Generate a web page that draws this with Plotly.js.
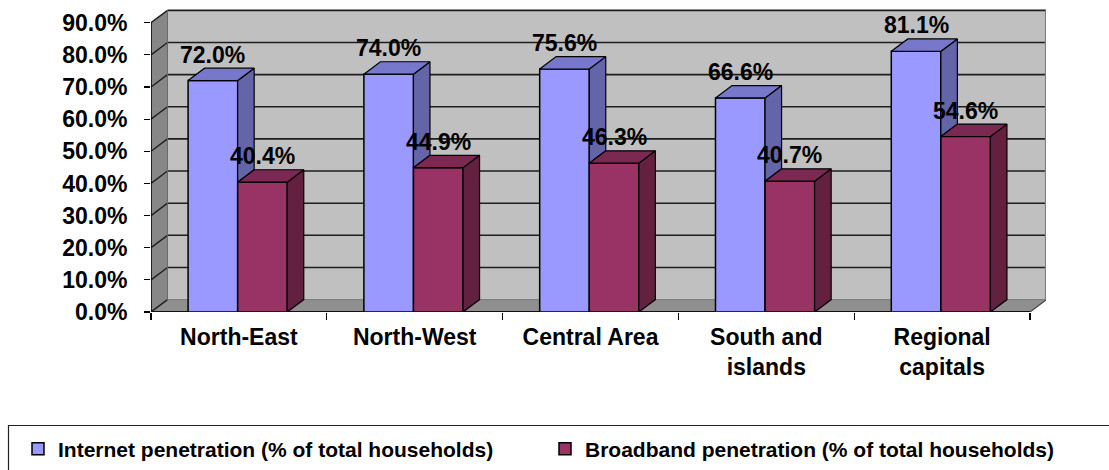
<!DOCTYPE html>
<html>
<head>
<meta charset="utf-8">
<script src="https://cdn.plot.ly/plotly-3.0.1.min.js"></script>
<style>html,body{margin:0;padding:0;background:#fff;}#chart{width:1109px;height:470px;}</style>
</head>
<body>
<div id="chart"></div>
<script>
// ---- data ----
const categories = ['North-East', 'North-West', 'Central Area', 'South and<br>islands', 'Regional<br>capitals'];
const internet = [0.720, 0.740, 0.756, 0.666, 0.811];
const broadband = [0.404, 0.449, 0.463, 0.407, 0.546];
const seriesNames = ['Internet penetration (% of total households)', 'Broadband penetration (% of total households)'];
const yTickVals = [0, 0.1, 0.2, 0.3, 0.4, 0.5, 0.6, 0.7, 0.8, 0.9];

// ---- geometry / style ----
const W = 1109, H = 470;
const M = {l: 151, r: 63, t: 9, b: 158};
const plotW = W - M.l - M.r, plotH = H - M.t - M.b;
const catPx = 175.8, yPx = 321.4;
const xMax = plotW / catPx, yMax = plotH / yPx;
const DX = 16.5 / catPx, DY = 12.4 / yPx;
const barW = 0.282, blueLeft = 0.211;
const FONT = 'Liberation Sans, Arial, sans-serif';
const colors = {
  blue: '#9999ff', blueSide: '#6464a8', blueTop: '#7777cc',
  red: '#993366', redSide: '#63203f', redTop: '#7b2853'
};
const idx = categories.map((c, i) => i);
const blueX0 = idx.map(i => i + blueLeft);
const redX0 = idx.map(i => i + blueLeft + barW);

const traces = [];
traces.push({
  type: 'bar', name: seriesNames[0], x: blueX0.map(v => v + barW / 2), y: internet, width: barW,
  marker: {color: colors.blue, line: {color: '#000', width: 1.5}}, hoverinfo: 'skip', legend: 'legend'
});
traces.push({
  type: 'bar', name: seriesNames[1], x: redX0.map(v => v + barW / 2), y: broadband, width: barW,
  marker: {color: colors.red, line: {color: '#000', width: 1.5}}, hoverinfo: 'skip', legend: 'legend2'
});

function poly(xs, ys, fill) {
  traces.push({type: 'scatter', mode: 'lines', x: xs.concat([xs[0]]), y: ys.concat([ys[0]]),
    fill: 'toself', fillcolor: fill, line: {color: '#000', width: 1.2},
    showlegend: false, hoverinfo: 'skip'});
}
// blue side faces (visible part above the broadband bar) and tops
idx.forEach(i => {
  const x1 = blueX0[i] + barW, b = internet[i], r = Math.min(broadband[i], b);
  poly([x1, x1 + DX, x1 + DX, x1], [r, r + DY, b + DY, b], colors.blueSide);
});
idx.forEach(i => {
  const x0 = blueX0[i], x1 = x0 + barW, v = internet[i];
  poly([x0, x0 + DX, x1 + DX, x1], [v, v + DY, v + DY, v], colors.blueTop);
});
idx.forEach(i => {
  const x1 = redX0[i] + barW, v = broadband[i];
  poly([x1, x1 + DX, x1 + DX, x1], [0, DY, v + DY, v], colors.redSide);
});
idx.forEach(i => {
  const x0 = redX0[i], x1 = x0 + barW, v = broadband[i];
  poly([x0, x0 + DX, x1 + DX, x1], [v, v + DY, v + DY, v], colors.redTop);
});

// ---- background 3D walls ----
const nCat = categories.length;
const topV = yTickVals[yTickVals.length - 1];
const shapes = [];
shapes.push({type: 'rect', xref: 'x', yref: 'y', x0: DX, x1: xMax, y0: DY, y1: topV + DY,
  fillcolor: '#c0c0c0', line: {width: 0}, layer: 'below'});
shapes.push({type: 'path', xref: 'x', yref: 'y', layer: 'below', fillcolor: '#878787', line: {width: 0},
  path: `M0,0 L${DX},${DY} L${DX},${topV + DY} L0,${topV} Z`});
shapes.push({type: 'path', xref: 'x', yref: 'y', layer: 'below', fillcolor: '#8f8f8f', line: {width: 0},
  path: `M0,0 L${nCat},0 L${nCat + DX},${DY} L${DX},${DY} Z`});
yTickVals.forEach(v => {
  if (v > 0) shapes.push({type: 'line', xref: 'x', yref: 'y', layer: 'below', x0: DX, x1: xMax, y0: v + DY, y1: v + DY,
    line: {color: '#1e1e1e', width: 1.6}});
  shapes.push({type: 'line', xref: 'x', yref: 'y', layer: 'below', x0: 0, x1: DX, y0: v, y1: v + DY,
    line: {color: '#1e1e1e', width: 1.4}});
});
shapes.push({type: 'line', xref: 'x', yref: 'y', layer: 'below', x0: DX, x1: xMax, y0: DY, y1: DY,
  line: {color: '#7a7a7a', width: 1}});
shapes.push({type: 'line', xref: 'x', yref: 'y', layer: 'below', x0: xMax - 0.002, x1: xMax - 0.002, y0: DY, y1: topV + DY,
  line: {color: '#7f7f7f', width: 1.5}});
shapes.push({type: 'line', xref: 'x', yref: 'y', layer: 'below', x0: DX, x1: DX, y0: DY, y1: topV + DY,
  line: {color: '#6a6a6a', width: 1}});
// front axis lines
shapes.push({type: 'line', xref: 'x', yref: 'y', layer: 'above', x0: 0, x1: 0, y0: 0, y1: topV,
  line: {color: '#000', width: 1.5}});
shapes.push({type: 'line', xref: 'x', yref: 'y', layer: 'below', x0: 0, x1: nCat, y0: 0, y1: 0,
  line: {color: '#111', width: 2}});
shapes.push({type: 'line', xref: 'x', yref: 'y', layer: 'below', x0: nCat, x1: nCat + DX, y0: 0, y1: DY,
  line: {color: '#444', width: 1.2}});
// legend frame
const px2x = p => (p - M.l) / plotW, px2y = p => (H - M.b - p) / plotH;
shapes.push({type: 'path', xref: 'paper', yref: 'paper', layer: 'above', line: {color: '#222', width: 1.2},
  path: `M${px2x(8.5)},${px2y(472)} L${px2x(8.5)},${px2y(425.5)} L${px2x(1112)},${px2y(425.5)}`});

// ---- data labels ----
const fmt = v => (v * 100).toFixed(1) + '%';
const annotations = [];
idx.forEach(i => {
  annotations.push({x: blueX0[i] + barW / 2, y: internet[i], xref: 'x', yref: 'y', text: fmt(internet[i]),
    showarrow: false, yanchor: 'bottom', xanchor: 'center', yshift: 11,
    font: {family: FONT, size: 23, color: '#000', weight: 'bold'}});
  annotations.push({x: redX0[i] + barW / 2, y: broadband[i], xref: 'x', yref: 'y', text: fmt(broadband[i]),
    showarrow: false, yanchor: 'bottom', xanchor: 'center', yshift: 11,
    font: {family: FONT, size: 23, color: '#000', weight: 'bold'}});
});

const legendFont = {family: FONT, size: 21, color: '#000', weight: 'bold'};
const layout = {
  width: W, height: H,
  margin: {l: M.l, r: M.r, t: M.t, b: M.b, autoexpand: false},
  paper_bgcolor: '#fff', plot_bgcolor: '#fff',
  barmode: 'overlay', showlegend: true,
  xaxis: {
    type: 'linear', range: [0, xMax], showgrid: false, zeroline: false, showline: false,
    tickmode: 'array', tickvals: idx.map(i => i + 0.5), ticktext: categories, ticks: '',
    ticklabelstandoff: 9,
    tickfont: {family: FONT, size: 23, color: '#000', weight: 'bold'},
    minor: {tickmode: 'array', tickvals: idx.concat([nCat]), ticks: 'outside', ticklen: 7, tickwidth: 1.2, tickcolor: '#000', showgrid: false},
    fixedrange: true
  },
  yaxis: {
    type: 'linear', range: [0, yMax], showgrid: false, zeroline: false, showline: false,
    tickmode: 'array', tickvals: yTickVals, tickformat: '.1%', ticks: 'outside', ticklen: 6, tickwidth: 1.2, tickcolor: '#000',
    ticklabelstandoff: 12,
    tickfont: {family: FONT, size: 23, color: '#000', weight: 'bold'},
    fixedrange: true
  },
  legend: {orientation: 'h', x: px2x(18), xanchor: 'left', y: px2y(449), yanchor: 'middle',
    font: legendFont, bgcolor: 'rgba(0,0,0,0)', borderwidth: 0},
  legend2: {orientation: 'h', x: px2x(545), xanchor: 'left', y: px2y(449), yanchor: 'middle',
    font: legendFont, bgcolor: 'rgba(0,0,0,0)', borderwidth: 0},
  shapes: shapes,
  annotations: annotations
};
Plotly.newPlot('chart', traces, layout, {displayModeBar: false, staticPlot: true});
</script>
</body>
</html>
